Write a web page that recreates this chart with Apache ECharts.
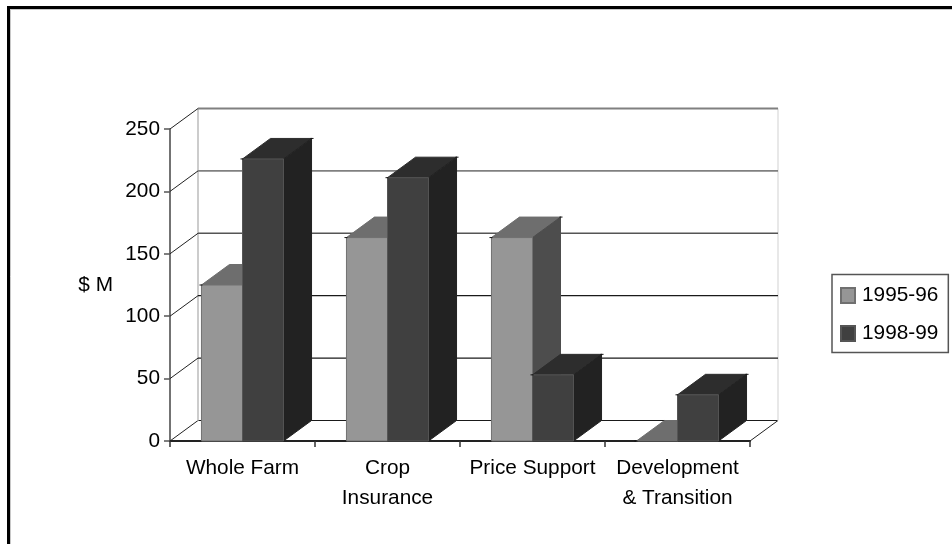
<!DOCTYPE html>
<html>
<head>
<meta charset="utf-8">
<style>html,body{margin:0;padding:0;background:#fff}#chart{width:952px;height:544px}</style>
<script src="https://cdn.jsdelivr.net/npm/echarts@6/dist/echarts.min.js"></script>
</head>
<body>
<div id="chart"></div>
<script>
// Program spending by category, two financial years
const categories = ['Whole Farm', 'Crop\nInsurance', 'Price Support', 'Development\n& Transition'];
const seriesNames = ['1995-96', '1998-99'];
const values9596 = [125, 163, 163, 0];
const values9899 = [226, 211, 53, 37];
const yTicks = [0, 50, 100, 150, 200, 250];

// Oblique projection of the depth axis, in pixels
const DEPTH_X = 28;
const DEPTH_Y = -20.5;
const FONT = '"Liberation Sans", Arial, sans-serif';
const FONT_SIZE = 20.8;

const palette = [
  { front: '#969696', top: '#6e6e6e', side: '#4d4d4d', edge: '#707070' },
  { front: '#404040', top: '#2d2d2d', side: '#222222', edge: '#555555' }
];
const gridStyles = [
  { stroke: '#1a1a1a', lineWidth: 1.2 },
  { stroke: '#1a1a1a', lineWidth: 1.2 },
  { stroke: '#1a1a1a', lineWidth: 1.2 },
  { stroke: '#555555', lineWidth: 1.4 },
  { stroke: '#808080', lineWidth: 1.8 },
  { stroke: '#808080', lineWidth: 2 }
];

const poly = (points, fill, stroke) => ({
  type: 'polygon',
  shape: { points },
  style: { fill, stroke: stroke || fill, lineWidth: 1 }
});
const seg = (x1, y1, x2, y2, stroke, lineWidth) => ({
  type: 'line',
  shape: { x1, y1, x2, y2 },
  style: { stroke, lineWidth, fill: null }
});

// Back wall, floor and the depth lines running from the axes
function renderWalls(params, api) {
  const v = api.value(0);
  const [x0, y] = api.coord([0, v]);
  const bw = api.size([1, 0])[0];
  const xLeft = x0 - bw / 2;
  const xRight = xLeft + bw * categories.length;
  const style = gridStyles[yTicks.indexOf(v)];
  const children = [
    seg(xLeft + DEPTH_X, y + DEPTH_Y, xRight + DEPTH_X, y + DEPTH_Y, style.stroke, style.lineWidth),
    seg(xLeft, y, xLeft + DEPTH_X, y + DEPTH_Y, '#222222', 1)
  ];
  if (v === 0) {
    const top = api.coord([0, 250])[1];
    children.push(
      seg(xRight, y, xRight + DEPTH_X, y + DEPTH_Y, '#222222', 1),
      seg(xLeft + DEPTH_X, y + DEPTH_Y, xLeft + DEPTH_X, top + DEPTH_Y, '#cccccc', 2),
      seg(xRight + DEPTH_X, y + DEPTH_Y, xRight + DEPTH_X, top + DEPTH_Y, '#e8e8e8', 2)
    );
  }
  return { type: 'group', children };
}

// One oblique box: front face, top face and right side
function makeBarRenderer(seriesIndex) {
  const c = palette[seriesIndex];
  return function (params, api) {
    const [cx, top] = api.coord([api.value(0), api.value(1)]);
    const base = api.coord([api.value(0), 0])[1];
    const w = api.size([1, 0])[0] * 0.283;
    const l = seriesIndex === 0 ? cx - w : cx;
    const r = l + w;
    const children = [
      poly([[l, top], [r, top], [r + DEPTH_X, top + DEPTH_Y], [l + DEPTH_X, top + DEPTH_Y]], c.top),
      poly([[r, top], [r + DEPTH_X, top + DEPTH_Y], [r + DEPTH_X, base + DEPTH_Y], [r, base]], c.side)
    ];
    if (base - top > 0.5) {
      children.push(poly([[l, top], [r, top], [r, base], [l, base]], c.front, c.edge));
    }
    children.push(
      seg(l - 2, top, l + 1, top, '#111111', 1),
      seg(r + DEPTH_X - 1, top + DEPTH_Y, r + DEPTH_X + 2, top + DEPTH_Y, '#111111', 1)
    );
    return { type: 'group', children };
  };
}

const chart = echarts.init(document.getElementById('chart'), null, { renderer: 'canvas' });
chart.setOption({
  animation: false,
  backgroundColor: '#ffffff',
  textStyle: { fontFamily: FONT },
  grid: { left: 170, top: 129, width: 580, height: 312 },
  xAxis: {
    type: 'category',
    data: categories,
    boundaryGap: true,
    axisLine: { lineStyle: { color: '#222222', width: 2 } },
    axisTick: { show: true, length: 6, lineStyle: { color: '#333333', width: 1.5 } },
    axisLabel: {
      color: '#000000',
      fontFamily: FONT,
      fontSize: FONT_SIZE,
      lineHeight: 30,
      margin: 12,
      interval: 0
    }
  },
  yAxis: {
    type: 'value',
    min: 0,
    max: 250,
    interval: 50,
    name: '$ M',
    nameLocation: 'middle',
    nameRotate: 0,
    nameGap: 57,
    nameTextStyle: { color: '#000000', fontFamily: FONT, fontSize: FONT_SIZE },
    axisLine: { show: true, lineStyle: { color: '#444444', width: 1.5 } },
    axisTick: { show: true, length: 6, lineStyle: { color: '#555555', width: 1.5 } },
    axisLabel: { color: '#000000', fontFamily: FONT, fontSize: FONT_SIZE, margin: 10 },
    splitLine: { show: false }
  },
  legend: {
    orient: 'vertical',
    left: 832,
    top: 274.5,
    width: 115,
    padding: [10.5, 10, 8.5, 8],
    icon: 'rect',
    itemWidth: 14,
    itemHeight: 15,
    itemGap: 17,
    borderColor: '#555555',
    borderWidth: 1.5,
    backgroundColor: '#ffffff',
    selectedMode: false,
    textStyle: { color: '#000000', fontFamily: FONT, fontSize: FONT_SIZE, padding: [0, 0, 0, 2] },
    data: seriesNames
  },
  graphic: [
    { type: 'line', z: 10, shape: { x1: 8.5, y1: 7.5, x2: 952, y2: 7.5 }, style: { stroke: '#000000', lineWidth: 3 } },
    { type: 'line', z: 10, shape: { x1: 8.5, y1: 6, x2: 8.5, y2: 544 }, style: { stroke: '#000000', lineWidth: 3 } },
    { type: 'line', z: 9, shape: { x1: 10, y1: 9.5, x2: 952, y2: 9.5 }, style: { stroke: '#c8c8c8', lineWidth: 1 } },
    { type: 'line', z: 9, shape: { x1: 10.5, y1: 9, x2: 10.5, y2: 544 }, style: { stroke: '#c8c8c8', lineWidth: 1 } }
  ],
  series: [
    {
      type: 'custom',
      name: 'walls',
      silent: true,
      z: 1,
      renderItem: renderWalls,
      encode: { x: -1, y: 0 },
      data: yTicks.map(v => [v])
    },
    {
      type: 'custom',
      name: seriesNames[0],
      z: 2,
      itemStyle: { color: palette[0].front, borderColor: palette[0].edge, borderWidth: 1 },
      renderItem: makeBarRenderer(0),
      encode: { x: 0, y: 1 },
      data: values9596.map((v, i) => [i, v])
    },
    {
      type: 'custom',
      name: seriesNames[1],
      z: 3,
      itemStyle: { color: palette[1].front, borderColor: palette[1].edge, borderWidth: 1 },
      renderItem: makeBarRenderer(1),
      encode: { x: 0, y: 1 },
      data: values9899.map((v, i) => [i, v])
    }
  ]
});
</script>
</body>
</html>
